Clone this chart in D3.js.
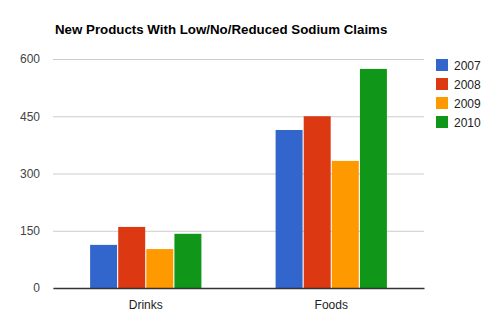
<!DOCTYPE html>
<html>
<head>
<meta charset="utf-8">
<script src="https://cdn.jsdelivr.net/npm/d3@7"></script>
<style>
  html, body { margin: 0; padding: 0; background: #fff; }
  svg { display: block; font-family: Arial, "Liberation Sans", sans-serif; }
</style>
</head>
<body>
<svg id="chart" width="500" height="334"></svg>
<script>
// Chart data
const categories = ["Drinks", "Foods"];
const seriesNames = ["2007", "2008", "2009", "2010"];
const values2007 = [113, 414];
const values2008 = [160, 450];
const values2009 = [102, 333];
const values2010 = [142, 574];
const yTicks = [0, 150, 300, 450, 600];
const colors = ["#3366cc", "#dc3912", "#ff9900", "#109618"];

const series = [values2007, values2008, values2009, values2010];

const svg = d3.select("#chart");
const margin = { left: 53, right: 76, top: 59, bottom: 46 };
const width = 500, height = 334;
const plotW = width - margin.left - margin.right;
const plotH = height - margin.top - margin.bottom;

const g = svg.append("g").attr("transform", `translate(${margin.left},${margin.top})`);

const x0 = d3.scaleBand().domain(categories).range([0, plotW]).paddingInner(0.4).paddingOuter(0.2);
const x1 = d3.scaleBand().domain(seriesNames).range([0, x0.bandwidth()]).paddingInner(0.04);
const y = d3.scaleLinear().domain([0, 600]).range([plotH, 0]);

// Title
svg.append("text")
  .attr("x", 55).attr("y", 34)
  .attr("font-size", 13.3).attr("font-weight", "bold").attr("fill", "#000")
  .text("New Products With Low/No/Reduced Sodium Claims");

// Gridlines
const yAxis = d3.axisLeft(y).tickValues(yTicks).tickSize(-plotW).tickPadding(13);
const ya = g.append("g").call(yAxis);
ya.select(".domain").remove();
ya.selectAll(".tick line").attr("stroke", "#cccccc");
ya.selectAll(".tick text").attr("font-size", 12).attr("fill", "#444").attr("font-family", "Arial, 'Liberation Sans', sans-serif");

// Bars
categories.forEach((cat, ci) => {
  seriesNames.forEach((s, si) => {
    g.append("rect")
      .attr("x", x0(cat) + x1(s))
      .attr("y", y(series[si][ci]))
      .attr("width", x1.bandwidth())
      .attr("height", plotH - y(series[si][ci]))
      .attr("fill", colors[si]);
  });
});

// X axis
const xAxis = d3.axisBottom(x0).tickSize(0).tickPadding(12);
const xa = g.append("g").attr("transform", `translate(0,${plotH})`).call(xAxis);
xa.select(".domain").attr("stroke", "#333").attr("stroke-width", 1.3);
xa.selectAll(".tick text").attr("font-size", 12).attr("fill", "#222").attr("font-family", "Arial, 'Liberation Sans', sans-serif");

// Legend
const legend = svg.append("g").attr("transform", "translate(436,59)");
seriesNames.forEach((s, i) => {
  const row = legend.append("g").attr("transform", `translate(0,${i * 19})`);
  row.append("rect").attr("width", 12).attr("height", 12).attr("fill", colors[i]);
  row.append("text").attr("x", 18).attr("y", 10.5).attr("font-size", 12).attr("fill", "#222").text(s);
});
</script>
</body>
</html>
